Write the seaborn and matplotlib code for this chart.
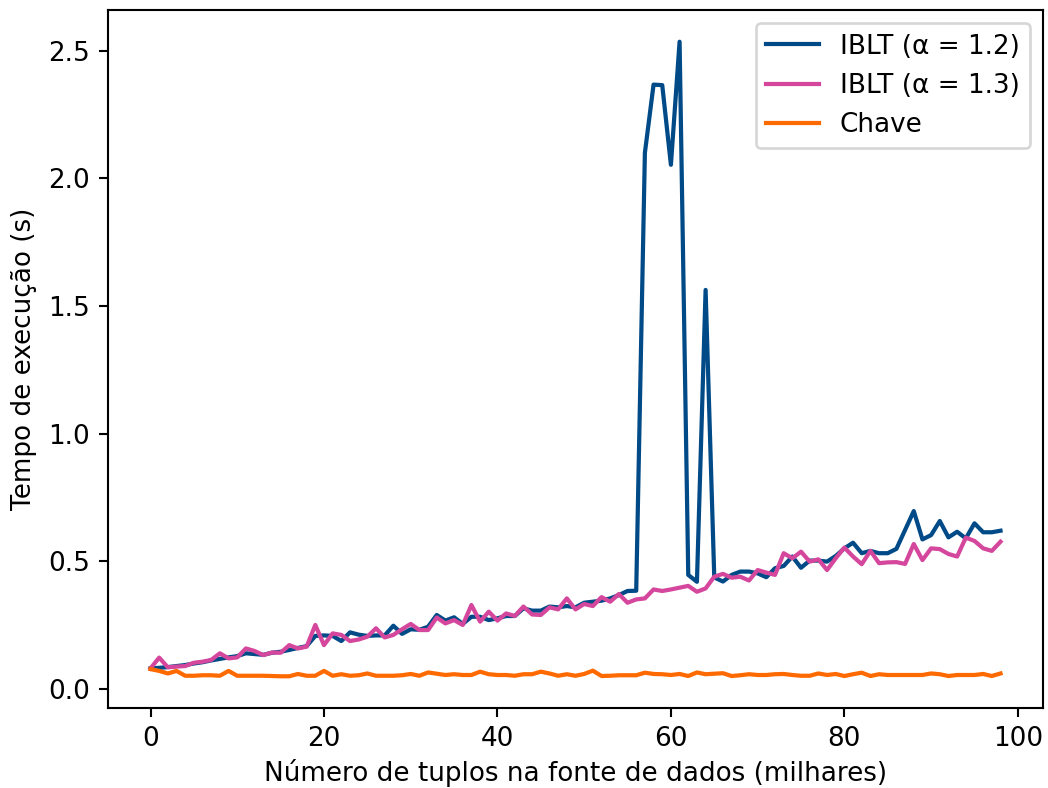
import numpy as np
import pandas as pd
import matplotlib
matplotlib.use("Agg")
import matplotlib.pyplot as plt
import seaborn as sns

x_milhares = list(range(0, 99))

iblt_12 = [0.081, 0.083, 0.086, 0.090, 0.094, 0.100, 0.105, 0.112, 0.118, 0.124,
           0.129, 0.140, 0.137, 0.134, 0.142, 0.146, 0.153, 0.161, 0.168, 0.208,
           0.210, 0.208, 0.188, 0.222, 0.213, 0.208, 0.210, 0.210, 0.248, 0.216,
           0.234, 0.232, 0.244, 0.290, 0.268, 0.281, 0.255, 0.283, 0.283, 0.270,
           0.277, 0.286, 0.286, 0.316, 0.307, 0.307, 0.323, 0.320, 0.325, 0.320,
           0.338, 0.342, 0.346, 0.355, 0.368, 0.384, 0.385, 2.100, 2.367, 2.365,
           2.053, 2.535, 0.447, 0.420, 1.563, 0.437, 0.421, 0.447, 0.460, 0.460,
           0.453, 0.438, 0.473, 0.482, 0.519, 0.475, 0.503, 0.503, 0.499, 0.521,
           0.551, 0.573, 0.532, 0.541, 0.532, 0.532, 0.549, 0.623, 0.697, 0.586,
           0.603, 0.658, 0.594, 0.616, 0.590, 0.649, 0.614, 0.614, 0.620]

iblt_13 = [0.081, 0.123, 0.085, 0.088, 0.090, 0.103, 0.107, 0.114, 0.140, 0.120,
           0.124, 0.159, 0.149, 0.133, 0.143, 0.142, 0.172, 0.159, 0.166, 0.251,
           0.172, 0.218, 0.212, 0.188, 0.194, 0.205, 0.238, 0.202, 0.212, 0.234,
           0.255, 0.231, 0.231, 0.280, 0.257, 0.270, 0.251, 0.329, 0.264, 0.303,
           0.268, 0.296, 0.286, 0.323, 0.292, 0.290, 0.320, 0.312, 0.355, 0.312,
           0.333, 0.325, 0.360, 0.342, 0.372, 0.338, 0.351, 0.355, 0.390, 0.384,
           0.390, 0.397, 0.404, 0.381, 0.394, 0.440, 0.451, 0.436, 0.440, 0.425,
           0.466, 0.456, 0.447, 0.532, 0.512, 0.538, 0.499, 0.508, 0.466, 0.512,
           0.554, 0.519, 0.489, 0.541, 0.493, 0.496, 0.497, 0.490, 0.568, 0.505,
           0.551, 0.548, 0.529, 0.519, 0.593, 0.580, 0.551, 0.541, 0.577]

chave = [0.078, 0.071, 0.061, 0.071, 0.052, 0.052, 0.054, 0.054, 0.052, 0.071,
         0.052, 0.052, 0.052, 0.052, 0.051, 0.050, 0.050, 0.059, 0.052, 0.052,
         0.071, 0.052, 0.058, 0.052, 0.054, 0.061, 0.052, 0.052, 0.052, 0.054,
         0.059, 0.052, 0.065, 0.060, 0.055, 0.058, 0.055, 0.055, 0.068, 0.058,
         0.055, 0.055, 0.052, 0.058, 0.058, 0.068, 0.061, 0.052, 0.058, 0.052,
         0.059, 0.072, 0.051, 0.052, 0.054, 0.054, 0.054, 0.064, 0.059, 0.058,
         0.055, 0.059, 0.051, 0.065, 0.058, 0.060, 0.062, 0.051, 0.054, 0.058,
         0.055, 0.055, 0.058, 0.059, 0.055, 0.052, 0.052, 0.061, 0.055, 0.059,
         0.051, 0.058, 0.064, 0.051, 0.058, 0.055, 0.055, 0.055, 0.055, 0.055,
         0.061, 0.058, 0.051, 0.055, 0.055, 0.055, 0.059, 0.051, 0.061]

series_names = ["IBLT (α = 1.2)", "IBLT (α = 1.3)", "Chave"]
series_colors = ["#004a87", "#d4479d", "#ff6a00"]

df = pd.concat([
    pd.DataFrame({"x": x_milhares, "y": iblt_12, "serie": series_names[0]}),
    pd.DataFrame({"x": x_milhares, "y": iblt_13, "serie": series_names[1]}),
    pd.DataFrame({"x": x_milhares, "y": chave, "serie": series_names[2]}),
], ignore_index=True)

DPI = 189
fig, ax = plt.subplots(figsize=(1048 / DPI, 788 / DPI), dpi=DPI)
sns.lineplot(data=df, x="x", y="y", hue="serie", hue_order=series_names,
             palette=dict(zip(series_names, series_colors)), linewidth=1.6, ax=ax)
ax.set_xlabel("Número de tuplos na fonte de dados (milhares)", labelpad=2.5)
ax.set_ylabel("Tempo de execução (s)")
ax.legend(title=None, loc="upper right")
fig.subplots_adjust(left=108/1048, right=1043/1048, top=1-10/788, bottom=1-708/788)
fig.savefig("out.png", dpi=DPI)
